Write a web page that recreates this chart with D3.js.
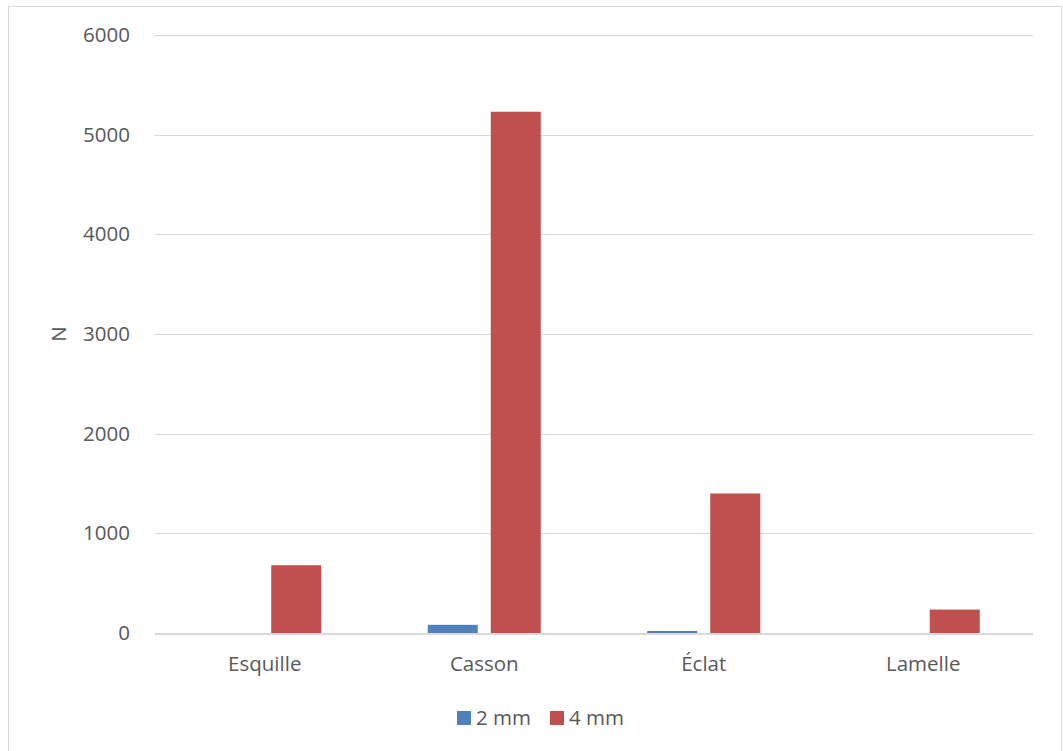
<!DOCTYPE html>
<html>
<head>
<meta charset="utf-8">
<script src="https://cdn.jsdelivr.net/npm/d3@7"></script>
<style>
  html, body { margin: 0; padding: 0; background: #fff; }
  svg { display: block; }
  text { font-family: "Open Sans", sans-serif; fill: #595959; }
</style>
</head>
<body>
<svg id="chart" width="1063" height="751"></svg>
<script>
// Fragment counts per debitage category and sieve mesh
const categories = ["Esquille", "Casson", "Éclat", "Lamelle"];
const seriesNames = ["2 mm", "4 mm"];
const values2mm = [0, 82, 20, 0];
const values4mm = [680, 5230, 1400, 235];
const yTicks = [0, 1000, 2000, 3000, 4000, 5000, 6000];
const colors = ["#4f81bd", "#c0504d"];

const rows = categories.map((c, i) => ({ category: c, values: [values2mm[i], values4mm[i]] }));

const svg = d3.select("#chart");
const plot = { left: 155, right: 1033, top: 35, bottom: 633 };
const fontSize = 20.5;

// outer frame
svg.append("rect")
  .attr("x", 8.5).attr("y", 6.5)
  .attr("width", 1053).attr("height", 780)
  .attr("fill", "#fff").attr("stroke", "#d9d9d9").attr("stroke-width", 1);

const y = d3.scaleLinear().domain([0, 6000]).range([plot.bottom, plot.top]);

const x0 = d3.scaleBand()
  .domain(categories)
  .range([plot.left, plot.right])
  .paddingInner(0.485)
  .paddingOuter(0.2425);

const x1 = d3.scaleBand()
  .domain(d3.range(seriesNames.length))
  .range([0, x0.bandwidth()])
  .paddingInner(0.206)
  .paddingOuter(0);

// horizontal gridlines
svg.append("g")
  .selectAll("line")
  .data(yTicks.filter(t => t !== 0))
  .join("line")
  .attr("x1", plot.left).attr("x2", plot.right)
  .attr("y1", d => Math.round(y(d)) + 0.5)
  .attr("y2", d => Math.round(y(d)) + 0.5)
  .attr("stroke", "#d9d9d9").attr("stroke-width", 1);

// y axis tick labels
const yAxis = d3.axisLeft(y).tickValues(yTicks).tickSize(0).tickPadding(0).tickFormat(d3.format("d"));
const yg = svg.append("g").attr("transform", `translate(${plot.left - 25},0)`).call(yAxis);
yg.select(".domain").remove();
yg.selectAll("text")
  .attr("font-size", fontSize)
  .attr("font-family", "Open Sans, sans-serif")
  .attr("fill", "#595959");

// bars
svg.append("g")
  .selectAll("g")
  .data(rows)
  .join("g")
  .attr("transform", d => `translate(${x0(d.category)},0)`)
  .selectAll("rect")
  .data(d => d.values.map((v, i) => ({ v, i })))
  .join("rect")
  .attr("x", d => x1(d.i))
  .attr("width", x1.bandwidth())
  .attr("y", d => y(d.v))
  .attr("height", d => y(0) - y(d.v))
  .attr("fill", d => colors[d.i]);

// category axis line
svg.append("line")
  .attr("x1", plot.left).attr("x2", plot.right)
  .attr("y1", y(0) + 1).attr("y2", y(0) + 1)
  .attr("stroke", "#d9d9d9").attr("stroke-width", 2);

// category labels
const xAxis = d3.axisBottom(x0).tickSize(0).tickPadding(0);
const xg = svg.append("g").attr("transform", `translate(0,${y(0) + 22})`).call(xAxis);
xg.select(".domain").remove();
xg.selectAll("text")
  .attr("dy", "0.8em")
  .attr("font-size", fontSize)
  .attr("font-family", "Open Sans, sans-serif")
  .attr("fill", "#595959");

// y axis title
svg.append("text")
  .attr("transform", `translate(66,334) rotate(-90)`)
  .attr("text-anchor", "middle")
  .attr("font-size", fontSize)
  .text("N");

// legend
const legendItems = [{ x: 457, name: seriesNames[0], color: colors[0] },
                     { x: 550, name: seriesNames[1], color: colors[1] }];
const lg = svg.append("g");
lg.selectAll("rect")
  .data(legendItems)
  .join("rect")
  .attr("x", d => d.x).attr("y", 711)
  .attr("width", 14).attr("height", 14)
  .attr("fill", d => d.color);
lg.selectAll("text")
  .data(legendItems)
  .join("text")
  .attr("x", d => d.x + 19).attr("y", 725)
  .attr("font-size", fontSize)
  .text(d => d.name);
</script>
</body>
</html>
